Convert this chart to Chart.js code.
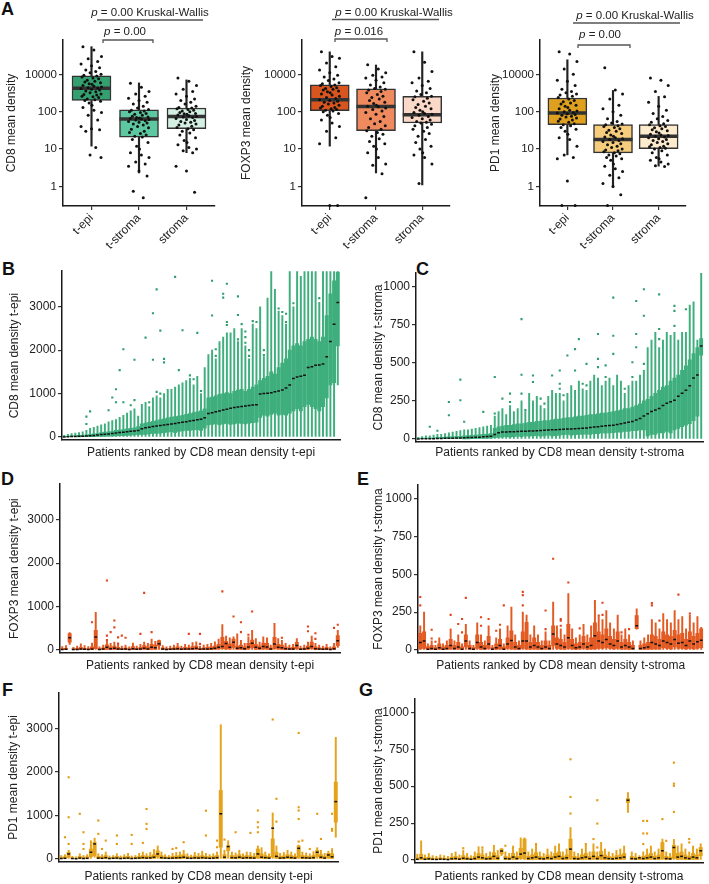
<!DOCTYPE html>
<html>
<head>
<meta charset="utf-8">
<script src="https://cdn.jsdelivr.net/npm/chart.js@4.4.1/dist/chart.umd.min.js"></script>
<style>
  body { margin: 0; background: #fff; width: 709px; height: 884px; position: relative; overflow: hidden; }
  canvas { position: absolute; }
  .lab { position: absolute; font: bold 18px/18px 'Liberation Sans', Arial, sans-serif; color: #111; }
</style>
</head>
<body>
<div class="lab" style="left:1px;top:0px">A</div>
<div class="lab" style="left:2px;top:260px">B</div>
<div class="lab" style="left:416px;top:260px">C</div>
<div class="lab" style="left:1px;top:470px">D</div>
<div class="lab" style="left:357px;top:470px">E</div>
<div class="lab" style="left:2px;top:681px">F</div>
<div class="lab" style="left:359px;top:681px">G</div>

<canvas id="a1" width="238" height="262" style="left:0;top:0"></canvas>
<canvas id="a2" width="238" height="262" style="left:235px;top:0"></canvas>
<canvas id="a3" width="239" height="262" style="left:470px;top:0"></canvas>
<canvas id="b" width="350" height="202" style="left:0;top:262px"></canvas>
<canvas id="c" width="359" height="202" style="left:350px;top:262px"></canvas>
<canvas id="d" width="350" height="202" style="left:0;top:475px"></canvas>
<canvas id="e" width="359" height="202" style="left:350px;top:475px"></canvas>
<canvas id="f" width="350" height="204" style="left:0;top:680px"></canvas>
<canvas id="g" width="359" height="204" style="left:350px;top:680px"></canvas>

<script>
// ---------- panel A: compartments ----------
const GROUPS = ['t-epi', 't-stroma', 'stroma'];
const LOG_TICKS = [1, 10, 100, 1000];
const LOG_LABELS = ['1', '10', '100', '10000'];

// box stats per compartment [t-epi, t-stroma, stroma]
const CD8_Q1 = [200, 21, 35];
const CD8_MED = [427, 64, 75];
const CD8_Q3 = [912, 113, 126];
const CD8_LO = [12, 2.3, 8];
const CD8_HI = [5500, 590, 710];

const FOXP3_Q1 = [106, 31, 50];
const FOXP3_MED = [209, 138, 83];
const FOXP3_Q3 = [525, 410, 257];
const FOXP3_LO = [12, 2.3, 1.1];
const FOXP3_HI = [4000, 1780, 4000];

const PD1_Q1 = [45, 7.9, 10.3];
const PD1_MED = [93, 18, 22];
const PD1_Q3 = [233, 45, 45];
const PD1_LO = [7, 0.95, 3.5];
const PD1_HI = [2450, 370, 257];

// patient means (points)
const CD8_EPI = [5500,4500,3000,2600,2200,1900,1700,1500,1300,1200,1100,1000,950,900,850,800,760,700,650,620,600,560,540,500,480,460,440,430,420,400,380,360,340,320,300,290,280,260,250,240,220,210,200,190,170,150,130,110,95,80,60,40,35,33,30,11,7,6];
const CD8_TSTR = [580,450,350,300,260,230,200,180,160,140,125,115,110,105,100,95,90,85,80,76,72,70,68,66,64,62,60,57,55,52,50,47,44,40,37,34,30,28,26,24,22,21,18,15,12,10,8,7,6,4.5,4,3.5,2.6,1.9,0.75,0.5];
const CD8_STR = [800,650,500,400,350,300,260,220,200,180,160,140,130,125,120,115,110,105,100,95,90,88,85,82,78,75,72,70,66,62,58,55,52,50,47,44,41,38,35,33,30,27,24,20,17,15,13,11,10,9,8,3.5,2.6,0.7];
const FOXP3_EPI = [4000,3000,2700,2000,1600,1300,1100,950,850,750,680,600,560,520,500,470,440,420,400,380,360,340,320,300,280,260,240,225,210,200,190,180,170,160,150,140,130,125,120,115,110,105,100,90,80,70,60,50,40,30,20,14,0.31,0.31];
const FOXP3_TSTR = [1800,1400,1100,950,850,800,700,600,520,460,420,400,380,350,320,290,260,240,220,200,180,165,150,140,135,125,115,105,95,85,75,65,55,48,42,38,34,31,28,25,22,19,16,14,12,10,8,6,4,3.7,2.2,0.5];
const FOXP3_STR = [4000,2100,1200,800,650,600,500,420,360,320,290,260,250,230,210,190,170,155,140,130,120,110,100,95,90,85,80,75,70,65,60,55,52,50,46,42,38,34,30,26,22,18,15,12,10,8,7,6,4,1.2];
const PD1_EPI = [4000,3500,2200,1400,1000,700,650,500,400,350,320,300,280,260,240,220,200,185,170,160,150,140,130,120,110,105,100,95,92,88,84,80,76,72,68,64,60,56,52,48,45,42,38,34,30,25,20,18,12,7,6,5.5,1.4,0.31,0.31];
const PD1_TSTR = [1500,380,300,220,150,120,100,80,65,55,50,47,45,42,40,38,35,32,30,28,26,24,22,21,20,19,18,17,16,15,14,13,12,11,10,9.5,9,8.5,8,7.5,7,6.5,6,5.5,5,4,3.5,3,2.5,2,1.7,1.2,1,0.6,0.31];
const PD1_STR = [800,700,500,350,250,180,140,110,90,75,65,58,52,48,45,42,40,37,35,33,31,29,27,25,24,23,22,21,20,19,18,17,16,15,14,13,12,11.5,11,10.5,10,9,8,7,6,5.5,5,4.5,4,3.6,3.4];

// ---------- panels B-G: per patient ----------
const TICKS_EPI = [0, 1000, 2000, 3000];
const TICKS_STR = [0, 250, 500, 750, 1000];

// B: CD8 t-epi
const MED_B = [2,5,8,10,14,18,22,28,35,45,55,62,70,80,90,100,110,120,130,140,150,190,210,225,240,255,265,275,290,300,310,325,340,350,365,380,395,410,440,540,560,580,600,620,640,660,680,690,700,715,725,735,745,990,1000,1010,1020,1040,1060,1080,1130,1200,1350,1380,1400,1420,1600,1620,1650,1660,1680,1850,2200,2600,3100];
const Q1_B = [0,0,0,0,2,4,5,6,8,10,12,15,18,20,25,30,30,35,40,45,50,60,60,70,80,80,90,100,110,120,100,130,140,150,150,160,170,150,200,280,290,300,280,300,310,290,300,320,310,300,320,330,340,450,500,480,520,550,500,520,500,550,600,650,600,700,750,700,650,600,700,900,1200,1250,2100];
const Q3_B = [15,20,25,30,35,40,50,60,70,80,100,110,120,130,150,160,170,190,200,210,240,300,320,340,360,380,400,420,440,460,470,480,500,520,540,560,580,600,650,900,920,950,980,1000,1020,1000,1050,1080,1100,1050,1100,1150,1200,1300,1350,1400,1500,1450,1600,1700,1800,2000,2100,2150,2100,2200,2250,2300,2250,2200,2300,2800,3300,3600,3800];
const HI_B = [40,60,80,90,100,120,150,200,220,250,280,300,350,380,400,450,500,550,600,650,480,750,800,700,900,950,900,1000,1100,1100,1150,1200,1250,1300,1350,1200,1400,1000,1600,1900,2000,1800,2200,2300,2400,2400,2500,2200,2500,2100,1800,2600,2500,3000,1850,3200,3820,3400,2900,2800,2600,3820,3000,3820,3700,3820,3820,3820,3820,3100,3820,3820,3820,3820,3820];
const LO_B = [[74, 1200]];
const OUT_B = [[6,300],[6,470],[7,590],[12,615],[13,910],[14,1100],[14,800],[15,1540],[16,2020],[16,800],[18,730],[19,850],[19,1780],[22,2290],[23,800],[24,1780],[24,2850],[25,3400],[25,1040],[26,2450],[26,1000],[27,1800],[27,1720],[30,3690],[31,1540],[32,2460],[34,1420],[35,1330],[36,2400],[37,1060],[40,2800],[40,3600],[41,2020],[41,1870],[43,3210],[43,3300],[44,2580],[44,2650],[44,3530],[47,2810],[47,3240],[47,2250],[48,2600],[49,2300],[49,2170],[49,2430],[50,1870],[50,2000],[51,2670],[52,2650],[54,2000],[54,1890],[58,2960],[59,2880],[60,2840],[60,2650],[62,3080],[69,3200]];

// C: CD8 t-stroma
const MED_C = [0,1,1,2,2,3,3,4,5,5,6,7,8,9,10,11,12,14,16,18,30,40,45,46,47,48,49,50,51,52,53,54,55,57,58,60,61,62,63,65,66,67,68,70,72,75,78,80,84,86,88,90,95,100,105,110,115,125,135,150,165,180,190,200,220,235,245,255,280,300,320,350,400,420,610];
const Q1_C = [0,0,0,0,0,0,0,0,0,0,0,0,1,1,2,2,3,3,4,5,8,10,12,15,12,15,18,15,20,18,20,22,18,20,25,20,22,25,28,30,25,28,30,30,32,30,35,35,40,38,40,42,45,45,50,50,55,55,60,60,20,30,30,40,40,50,40,60,70,80,90,100,120,150,550];
const Q3_C = [3,5,6,8,8,10,10,12,14,15,16,18,20,22,24,26,28,30,32,35,70,80,85,90,90,95,100,100,105,110,110,115,115,120,120,125,130,130,135,140,140,145,150,150,155,160,160,165,170,170,175,180,185,190,200,200,210,220,230,250,260,280,300,320,340,350,380,400,420,450,480,520,560,600,660];
const HI_C = [10,15,20,20,25,30,30,35,40,45,50,55,60,60,65,70,75,80,85,90,150,180,200,160,220,180,200,250,180,300,250,280,220,200,280,320,300,300,250,300,350,320,380,330,320,380,420,400,350,380,400,350,420,380,300,350,380,380,420,450,600,650,700,600,650,700,680,700,650,700,700,880,900,650,1090];
const LO_C = [];
const OUT_C = [[3,80],[5,54],[8,243],[8,156],[11,390],[11,254],[12,113],[17,178],[20,407],[20,167],[22,265],[24,298],[24,243],[27,787],[27,422],[27,298],[28,189],[30,417],[30,374],[32,265],[33,232],[35,417],[37,450],[37,363],[37,330],[38,287],[39,548],[41,590],[42,656],[41,450],[43,363],[44,493],[44,352],[47,689],[47,526],[47,472],[49,483],[49,407],[51,928],[51,678],[51,559],[54,330],[56,504],[56,407],[57,906],[57,689],[57,602],[59,983],[59,809],[59,493],[63,950],[63,722],[63,656],[67,874],[67,841],[67,743],[70,852]];

// D: FOXP3 t-epi
const MED_D = [10,15,280,8,12,20,15,10,25,300,10,20,60,30,40,25,15,20,10,30,15,20,40,25,60,50,146,20,10,15,20,30,15,25,20,30,40,15,20,25,30,40,60,80,150,60,177,40,50,30,70,154,60,40,80,70,20,140,60,50,30,20,25,100,15,20,40,80,30,20,15,25,10,30,215];
const Q1_D = [0,0,180,0,0,5,0,0,5,30,0,5,10,5,10,5,0,5,0,5,0,5,10,5,10,10,100,5,0,0,5,5,0,5,5,5,10,0,5,5,5,10,20,30,20,20,60,10,10,5,20,50,10,10,20,20,5,30,20,10,5,5,5,23,0,5,10,30,5,5,0,5,0,5,100];
const Q3_D = [30,40,380,25,35,60,40,30,70,450,30,50,120,70,90,60,40,50,30,80,40,60,100,70,130,110,215,50,30,40,50,70,40,60,50,80,90,40,50,60,70,90,130,290,200,140,250,90,110,70,150,230,130,90,160,150,50,290,130,110,70,50,60,177,40,50,90,180,70,50,40,60,30,70,330];
const HI_D = [80,100,400,60,90,140,100,80,160,870,70,110,200,150,180,130,90,110,70,160,90,130,180,150,250,200,230,100,70,90,110,150,90,130,110,170,190,90,110,130,150,190,250,585,320,280,300,370,220,150,300,450,260,180,300,280,110,615,260,220,150,110,130,260,90,110,180,320,150,110,90,130,70,150,450];
const LO_D = [[2,130],[74,60]];
const OUT_D = [[8,640],[12,1600],[12,330],[12,230],[13,410],[14,680],[14,520],[15,290],[15,150],[16,330],[17,280],[21,370],[22,1315],[24,410],[34,370],[37,370],[37,140],[43,1350],[46,770],[48,640],[48,410],[50,350],[51,885],[59,280],[66,540],[66,430],[68,385],[68,255],[73,510],[74,580]];

// E: FOXP3 t-stroma
const MED_E = [50,60,5,10,5,15,5,10,30,10,20,5,60,10,5,50,20,10,40,5,15,30,5,40,62,20,10,60,60,20,30,20,10,20,10,105,40,30,20,80,30,15,20,40,20,30,94,60,50,70,40,30,60,20,30,20,10,160,10,15,20,49,40,30,60,50,40,70,45,50,30,60,40,55,65];
const Q1_E = [5,10,0,0,0,0,0,0,5,0,5,0,20,0,0,10,0,0,10,0,0,5,0,10,5,0,0,10,5,0,5,0,0,5,0,30,10,5,0,10,5,0,5,10,0,5,5,10,10,15,10,5,10,0,5,0,0,140,0,0,0,5,5,5,15,10,5,20,10,10,5,10,5,10,15];
const Q3_E = [110,120,20,30,15,40,20,30,70,30,50,20,100,30,15,100,50,30,90,15,40,70,20,80,127,50,30,120,183,50,80,50,30,60,30,160,80,70,50,170,70,40,50,90,50,80,180,120,100,140,90,70,120,50,70,50,30,228,30,40,50,100,90,70,120,100,90,130,100,110,70,120,90,110,140];
const HI_E = [160,250,40,60,30,80,40,60,140,60,100,40,170,60,30,180,100,60,160,30,80,140,40,160,283,100,60,250,230,100,160,100,60,120,60,317,160,140,100,373,140,80,100,170,100,160,328,220,200,260,180,140,230,100,140,100,60,272,60,80,100,200,180,140,240,200,180,260,200,220,140,230,180,220,150];
const LO_E = [[57,138]];
const OUT_E = [[0,350],[0,295],[3,134],[3,76],[4,54],[8,232],[10,172],[11,205],[11,116],[12,344],[16,216],[16,160],[18,205],[20,127],[21,167],[22,295],[27,384],[27,362],[27,295],[33,261],[33,138],[35,603],[37,205],[37,194],[37,160],[39,446],[42,143],[47,228],[48,312],[48,232],[53,116],[55,138],[61,310],[61,295],[63,194],[68,366],[71,241]];

// F: PD1 t-epi
const MED_F = [10,15,115,10,5,20,10,15,154,346,20,15,30,10,15,20,10,15,20,10,15,20,30,20,25,40,115,30,20,15,20,25,30,40,20,15,25,20,30,20,15,20,30,1040,40,285,30,25,40,20,30,25,20,115,40,30,20,708,60,20,25,40,30,20,245,30,25,20,30,154,40,20,92,50,1320];
const Q1_F = [0,0,38,0,0,5,0,0,50,77,5,0,5,0,0,5,0,0,5,0,0,5,5,0,5,10,40,5,0,0,5,5,5,10,0,0,5,0,5,0,0,5,5,270,10,192,5,5,10,0,5,5,0,20,10,5,0,38,15,5,5,10,5,0,20,5,5,0,5,50,10,0,20,10,846];
const Q3_F = [40,50,154,30,20,60,40,50,230,385,60,50,80,30,40,60,30,50,60,30,40,60,80,60,70,100,190,80,50,40,60,70,80,100,60,40,70,60,80,60,50,60,80,1577,100,308,80,70,100,60,80,70,60,230,120,80,60,462,150,60,70,100,80,60,300,80,70,60,80,200,100,60,130,120,1770];
const HI_F = [80,100,200,60,50,120,80,100,420,480,120,100,160,70,80,120,70,100,130,70,80,130,160,120,150,220,300,160,100,80,130,150,160,200,120,90,150,130,180,130,100,120,160,3090,200,420,160,140,200,120,160,150,130,300,260,160,120,1060,300,130,150,200,160,120,320,160,140,120,170,260,200,130,180,240,2800];
const LO_F = [[9,40],[74,500]];
const OUT_F = [[2,1880],[2,960],[2,346],[1,500],[5,1040],[6,615],[6,346],[6,230],[10,885],[10,577],[11,230],[12,423],[15,540],[15,346],[19,554],[19,346],[22,370],[23,1150],[23,808],[23,692],[30,230],[31,250],[33,385],[39,1110],[39,540],[42,423],[42,270],[44,446],[47,615],[51,600],[53,1115],[53,846],[53,730],[53,615],[57,3210],[58,1385],[58,860],[64,2900],[64,1190],[64,1115],[64,920],[64,400],[65,423],[67,230],[69,1040],[70,460],[73,1040],[73,692],[73,650]];

// G: PD1 t-stroma
const MED_G = [5,15,5,8,5,4,6,5,3,8,10,6,12,8,5,10,20,15,8,10,25,12,61,10,8,20,10,40,47,10,15,20,10,8,15,10,20,25,10,15,74,10,8,15,20,10,25,10,30,15,10,8,12,15,20,405,10,8,15,10,15,20,10,15,63,10,8,85,20,25,15,10,20,15,63];
const Q1_G = [0,0,0,0,0,0,0,0,0,0,0,0,2,0,0,2,5,3,0,2,5,2,40,0,0,5,0,10,7,0,2,5,0,0,3,0,5,5,0,2,7,0,0,3,5,0,5,0,5,3,0,0,2,3,5,389,0,0,3,0,3,5,0,3,7,0,0,10,3,5,3,0,5,3,29];
const Q3_G = [15,40,15,20,12,10,15,12,10,20,25,15,30,20,12,25,45,35,20,25,50,30,75,25,20,45,25,80,142,25,35,50,25,20,35,25,45,55,25,35,142,25,20,35,45,25,55,25,60,35,25,20,30,35,45,416,25,20,15,25,35,45,25,35,119,25,20,100,45,55,35,25,45,35,85];
const HI_G = [40,130,35,45,30,25,35,30,25,45,55,35,65,45,30,55,90,75,45,55,100,65,80,55,45,95,55,150,150,55,75,100,55,45,75,55,95,110,55,75,220,55,45,75,100,55,110,55,120,75,55,45,65,75,95,457,55,45,30,55,75,95,55,75,142,55,45,140,95,110,75,55,95,75,110];
const LO_G = [[22,30],[55,322]];
const OUT_G = [[12,80],[17,85],[23,97],[31,108],[40,682],[40,427],[40,315],[44,108],[46,142],[47,405],[47,247],[47,85],[59,265],[59,180],[59,108],[60,265],[60,180],[64,277],[65,130],[67,659],[67,517],[67,502],[67,326],[71,142],[71,119]];

// ---------- drawing ----------
const FONT = "'Liberation Sans', Arial, Helvetica, sans-serif";
Chart.defaults.font.family = FONT;
Chart.defaults.color = '#1a1a1a';
Chart.defaults.animation = false;
Chart.defaults.plugins.legend.display = false;
Chart.defaults.plugins.tooltip.enabled = false;

// fixed jitter pattern for the dots in panel A
const JIT = [-0.18,0.05,0.21,-0.07,0.13,-0.22,0.0,0.17,-0.12,0.09,-0.03,0.2,-0.16,0.11,-0.2,0.03,0.15,-0.09,0.07,-0.14,0.19,-0.05,0.01];

const tickGrid = {display: true, drawOnChartArea: false, drawTicks: true, tickLength: 4, color: '#333', lineWidth: 1.2};
const axisLine = {display: true, color: '#1a1a1a', width: 1.5};

function drawP(ctx, rest, cx, cy) {
  const fi = 'italic 11.5px ' + FONT, fn = '11.5px ' + FONT;
  ctx.font = fi; const w1 = ctx.measureText('p').width;
  ctx.font = fn; const w2 = ctx.measureText(rest).width;
  let x = cx - (w1 + w2) / 2;
  ctx.textBaseline = 'middle'; ctx.textAlign = 'left';
  ctx.font = fi; ctx.fillText('p', x, cy);
  ctx.font = fn; ctx.fillText(rest, x + w1, cy);
}

function pvalPlugin(a) {
  return {
    id: 'pval',
    afterDraw(chart) {
      const c = chart.ctx;
      c.save();
      c.fillStyle = '#222'; c.strokeStyle = '#555'; c.lineWidth = 1.3;
      drawP(c, ' = 0.00 Kruskal-Wallis', a.kwX, a.kwY);
      c.beginPath(); c.moveTo(a.ulX0, a.ulY); c.lineTo(a.ulX1, a.ulY); c.stroke();
      drawP(c, ' = ' + a.pair, a.prX, a.prY);
      c.beginPath();
      c.moveTo(a.brX0, a.brY + 3); c.lineTo(a.brX0, a.brY); c.lineTo(a.brX1, a.brY); c.lineTo(a.brX1, a.brY + 3);
      c.stroke();
      c.restore();
    }
  };
}

function groupChart(id, o) {
  const ds = [
    {type: 'bar', data: GROUPS.map((g, i) => ({x: i + 1, y: [o.lo[i], o.hi[i]]})),
     backgroundColor: '#222', barThickness: 1.5, grouped: false, order: 5},
    {type: 'bar', data: GROUPS.map((g, i) => ({x: i + 1, y: [o.q1[i], o.q3[i]]})),
     backgroundColor: o.fill, borderColor: '#333', borderWidth: 1.5, borderSkipped: false,
     barThickness: 39, grouped: false, order: 4},
    {type: 'scatter', data: GROUPS.map((g, i) => ({x: i + 1, y: o.med[i]})),
     pointStyle: 'line', pointRadius: 19.5, pointBorderWidth: 3.5, pointBorderColor: '#333', order: 3}
  ];
  o.pts.forEach((arr, g) => ds.push({
    type: 'scatter', data: arr.map((v, k) => ({x: g + 1 + JIT[k % JIT.length], y: v})),
    pointRadius: 1.5, pointBackgroundColor: '#111', pointBorderWidth: 0, order: 1, clip: false
  }));
  new Chart(document.getElementById(id), {
    type: 'bar',
    data: {datasets: ds},
    options: {
      responsive: false,
      layout: {padding: {top: 40, right: o.padR, left: o.padL, bottom: 0}},
      scales: {
        x: {type: 'linear', min: 0.4, max: 3.6, offset: false,
            afterBuildTicks: s => { s.ticks = [1, 2, 3].map(v => ({value: v})); },
            afterFit: s => { s.height = 56; },
            ticks: {callback: v => GROUPS[v - 1], minRotation: 45, maxRotation: 45, font: {size: 12}, color: '#222', padding: 1},
            grid: Object.assign({offset: false}, tickGrid), border: axisLine},
        y: {type: 'logarithmic', min: 0.3, max: 8300,
            afterBuildTicks: s => { s.ticks = LOG_TICKS.map(v => ({value: v})); },
            afterFit: s => { s.width = o.yw; },
            ticks: {callback: v => LOG_LABELS[LOG_TICKS.indexOf(v)], font: {size: 11.5}, color: '#222', padding: 2},
            title: {display: true, text: o.title, font: {size: 12}, color: '#222'},
            grid: tickGrid, border: axisLine}
      }
    },
    plugins: [pvalPlugin(o.ann)]
  });
}

function patientChart(id, p) {
  const idx = p.med.map((_, i) => i + 1);
  const lo = idx.map(() => 0);
  p.lo.forEach(([i, v]) => { lo[i] = v; });
  const ds = [
    {type: 'bar', data: idx.map((x, i) => ({x, y: [lo[i], p.hi[i]]})),
     backgroundColor: p.col, barThickness: 1.3, grouped: false, order: 4},
    {type: 'bar', data: idx.map((x, i) => ({x, y: [p.q1[i], p.q3[i]]})),
     backgroundColor: p.col, barThickness: 3.3, grouped: false, order: 3},
    {type: 'scatter', data: p.out.map(([i, v]) => ({x: i + 1, y: v})),
     pointStyle: 'rect', pointRadius: 1.5, pointBackgroundColor: p.outCol, pointBorderWidth: 0, order: 2},
    {type: 'scatter', data: idx.map((x, i) => ({x, y: p.med[i]})),
     pointStyle: 'line', pointRadius: 1.4, pointBorderWidth: 1.5, pointBorderColor: '#111', order: 1}
  ];
  new Chart(document.getElementById(id), {
    type: 'bar',
    data: {datasets: ds},
    options: {
      responsive: false,
      layout: {padding: {top: p.pt, right: p.pr, left: p.pl, bottom: 0}},
      scales: {
        x: {type: 'linear', min: 0.4, max: idx.length + 0.6, offset: false,
            afterFit: s => { s.height = p.xh; },
            ticks: {display: false}, grid: {display: false, offset: false}, border: axisLine,
            title: {display: true, text: p.xTitle, font: {size: 12}, color: '#222', padding: {top: 0, bottom: p.tb}}},
        y: {type: 'linear', min: p.ymin, max: p.ymax,
            afterBuildTicks: s => { s.ticks = p.ticks.map(v => ({value: v})); },
            afterFit: s => { s.width = p.yw; },
            ticks: {callback: v => String(v), font: {size: 12}, color: '#222', padding: 2},
            title: {display: true, text: p.yTitle, font: {size: 12}, color: '#222'},
            grid: tickGrid, border: axisLine}
      }
    }
  });
}

groupChart('a1', {q1: CD8_Q1, med: CD8_MED, q3: CD8_Q3, lo: CD8_LO, hi: CD8_HI,
  pts: [CD8_EPI, CD8_TSTR, CD8_STR], fill: ['#34A070', '#5CC7A0', '#D4F0E2'],
  title: 'CD8 mean density', padL: 0, yw: 63, padR: 8,
  ann: {kwX: 150, kwY: 13, ulX0: 97, ulX1: 203, ulY: 20, pair: '0.00', prX: 125, prY: 32, brX0: 103, brX1: 153, brY: 40}});
groupChart('a2', {q1: FOXP3_Q1, med: FOXP3_MED, q3: FOXP3_Q3, lo: FOXP3_LO, hi: FOXP3_HI,
  pts: [FOXP3_EPI, FOXP3_TSTR, FOXP3_STR], fill: ['#D9551F', '#EE8A5E', '#FBD9C9'],
  title: 'FOXP3 mean density', padL: 0, yw: 67, padR: 5,
  ann: {kwX: 159, kwY: 13, ulX0: 97, ulX1: 204, ulY: 19.5, pair: '0.016', prX: 124, prY: 32, brX0: 100, brX1: 152, brY: 39}});
groupChart('a3', {q1: PD1_Q1, med: PD1_MED, q3: PD1_Q3, lo: PD1_LO, hi: PD1_HI,
  pts: [PD1_EPI, PD1_TSTR, PD1_STR], fill: ['#DFA020', '#F6CC7D', '#FDEBCD'],
  title: 'PD1 mean density', padL: 14, yw: 56, padR: 3,
  ann: {kwX: 165, kwY: 16, ulX0: 103, ulX1: 210, ulY: 23, pair: '0.00', prX: 130, prY: 35, brX0: 108, brX1: 160, brY: 45}});

const GREEN = '#3FAE7D', GREEN_O = '#2E9E6E';
const ORANGE = '#E35A22', ORANGE_O = '#E0461B';
const GOLD = '#E5A31C', GOLD_O = '#E59A12';

patientChart('b', {med: MED_B, q1: Q1_B, q3: Q3_B, hi: HI_B, lo: LO_B, out: OUT_B, col: GREEN, outCol: GREEN_O,
  ymin: -70, ymax: 3820, ticks: TICKS_EPI, yTitle: 'CD8 mean density t-epi', xTitle: 'Patients ranked by CD8 mean density t-epi',
  pl: 3, yw: 59, pr: 10, pt: 5, xh: 24, tb: 4});
patientChart('c', {med: MED_C, q1: Q1_C, q3: Q3_C, hi: HI_C, lo: LO_C, out: OUT_C, col: GREEN, outCol: GREEN_O,
  ymin: -20, ymax: 1090, ticks: TICKS_STR, yTitle: 'CD8 mean density t-stroma', xTitle: 'Patients ranked by CD8 mean density t-stroma',
  pl: 17, yw: 49, pr: 2, pt: 11, xh: 22, tb: 4});
patientChart('d', {med: MED_D, q1: Q1_D, q3: Q3_D, hi: HI_D, lo: LO_D, out: OUT_D, col: ORANGE, outCol: ORANGE_O,
  ymin: -70, ymax: 3820, ticks: TICKS_EPI, yTitle: 'FOXP3 mean density t-epi', xTitle: 'Patients ranked by CD8 mean density t-epi',
  pl: 3, yw: 57, pr: 10, pt: 5, xh: 24, tb: 4});
patientChart('e', {med: MED_E, q1: Q1_E, q3: Q3_E, hi: HI_E, lo: LO_E, out: OUT_E, col: ORANGE, outCol: ORANGE_O,
  ymin: -20, ymax: 1090, ticks: TICKS_STR, yTitle: 'FOXP3 mean density t-stroma', xTitle: 'Patients ranked by CD8 mean density t-stroma',
  pl: 17, yw: 51, pr: 1, pt: 10, xh: 24, tb: 4});
patientChart('f', {med: MED_F, q1: Q1_F, q3: Q3_F, hi: HI_F, lo: LO_F, out: OUT_F, col: GOLD, outCol: GOLD_O,
  ymin: -70, ymax: 3820, ticks: TICKS_EPI, yTitle: 'PD1 mean density t-epi', xTitle: 'Patients ranked by CD8 mean density t-epi',
  pl: 2, yw: 57, pr: 12, pt: 13, xh: 22, tb: 0});
patientChart('g', {med: MED_G, q1: Q1_G, q3: Q3_G, hi: HI_G, lo: LO_G, out: OUT_G, col: GOLD, outCol: GOLD_O,
  ymin: -20, ymax: 1090, ticks: TICKS_STR, yTitle: 'PD1 mean density t-stroma', xTitle: 'Patients ranked by CD8 mean density t-stroma',
  pl: 17, yw: 48, pr: 6, pt: 19, xh: 21, tb: 0});
</script>
</body>
</html>
